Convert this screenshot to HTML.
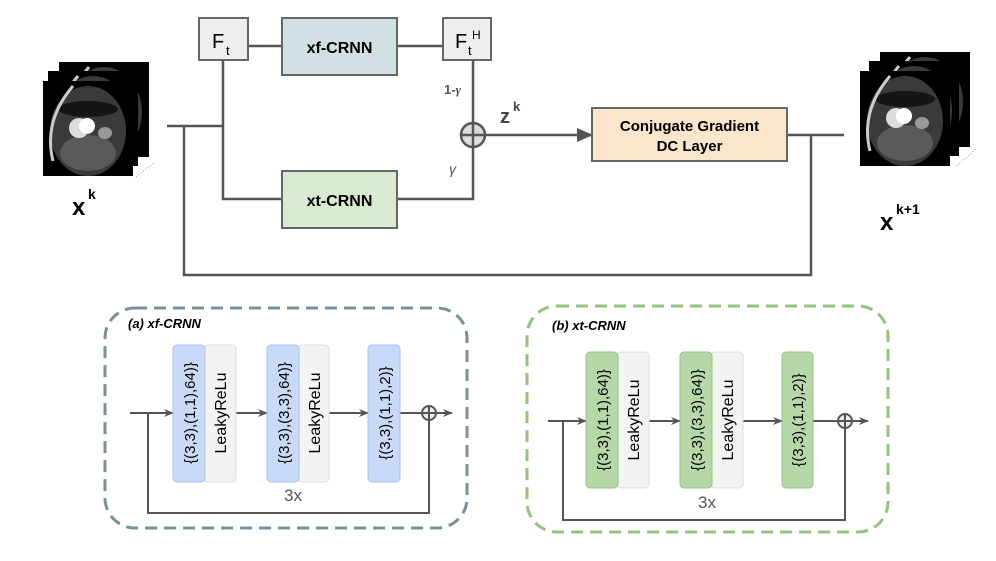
<!DOCTYPE html>
<html><head><meta charset="utf-8"><style>
html,body{margin:0;padding:0;background:#fff}
svg{display:block}
text{font-family:"Liberation Sans",sans-serif}
</style></head><body>
<svg width="996" height="561" viewBox="0 0 996 561" xmlns="http://www.w3.org/2000/svg">
<defs>
<marker id="ah" markerWidth="10" markerHeight="10" refX="9" refY="5" orient="auto" markerUnits="userSpaceOnUse"><path d="M0,1 L10,5 L0,9 L3,5 Z" fill="#555"/></marker>
<marker id="ab" markerWidth="16" markerHeight="14" refX="15" refY="7" orient="auto" markerUnits="userSpaceOnUse"><path d="M0,0 L16,7 L0,14 Z" fill="#555"/></marker>
<g id="mri">
<rect x="0" y="0" width="90" height="95" fill="#000"/>
<ellipse cx="45" cy="50" rx="38" ry="45" fill="#3a3a3a"/>
<ellipse cx="45" cy="28" rx="30" ry="8" fill="#151515"/>
<ellipse cx="45" cy="72" rx="28" ry="18" fill="#5a5a5a"/>
<circle cx="36" cy="47" r="10" fill="#ddd"/>
<circle cx="44" cy="45" r="8" fill="#fff"/>
<ellipse cx="62" cy="52" rx="7" ry="6" fill="#999"/>
<path d="M10,80 Q0,40 30,5" stroke="#ccc" stroke-width="3" fill="none"/>
</g>
</defs>

<use href="#mri" x="59" y="62"/>
<use href="#mri" x="48" y="71"/>
<use href="#mri" x="43" y="81"/>
<line x1="136" y1="177" x2="155" y2="162" stroke="#999" stroke-dasharray="1,2"/>
<text x="72" y="215" font-size="24" font-weight="bold">x</text>
<text x="88" y="199" font-size="14" font-weight="bold">k</text>

<use href="#mri" x="880" y="52"/>
<use href="#mri" x="869" y="61"/>
<use href="#mri" x="860" y="71"/>
<line x1="957" y1="166" x2="976" y2="149" stroke="#999" stroke-dasharray="1,2"/>
<text x="880" y="230" font-size="24" font-weight="bold">x</text>
<text x="896" y="214" font-size="14" font-weight="bold">k+1</text>

<g stroke="#555" stroke-width="2.5" fill="none">
<path d="M167,126 H223"/>
<path d="M223,60 V199 H282"/>
<path d="M248,46 H282"/>
<path d="M397,46 H443"/>
<path d="M473,60 V199 H397"/>
<path d="M184,126 V275 H811 V135"/>
<path d="M787,135 H844"/>
</g>
<line x1="485" y1="135" x2="592" y2="135" stroke="#555" stroke-width="2.5" marker-end="url(#ab)"/>
<circle cx="473" cy="135" r="12" fill="#ddd" stroke="#555" stroke-width="2.5"/>
<line x1="461" y1="135" x2="485" y2="135" stroke="#555" stroke-width="2.5"/>
<line x1="473" y1="123" x2="473" y2="147" stroke="#555" stroke-width="2.5"/>

<rect x="199" y="18" width="49" height="42" fill="#eee" stroke="#666" stroke-width="2"/>
<text x="212" y="48" font-size="20">F</text><text x="226" y="55" font-size="13">t</text>
<rect x="282" y="18" width="115" height="57" fill="#d0e0e3" stroke="#666" stroke-width="2"/>
<text x="339.5" y="53" font-size="16" font-weight="bold" text-anchor="middle">xf-CRNN</text>
<rect x="443" y="18" width="48" height="42" fill="#eee" stroke="#666" stroke-width="2"/>
<text x="455" y="48" font-size="20">F</text><text x="468" y="55" font-size="13">t</text><text x="472" y="39" font-size="12">H</text>
<rect x="282" y="171" width="115" height="57" fill="#d9ead3" stroke="#666" stroke-width="2"/>
<text x="339.5" y="206" font-size="16" font-weight="bold" text-anchor="middle">xt-CRNN</text>
<rect x="592" y="108" width="195" height="53" fill="#fce5cd" stroke="#666" stroke-width="2"/>
<text x="689.5" y="131" font-size="15" font-weight="bold" text-anchor="middle">Conjugate Gradient</text>
<text x="689.5" y="151" font-size="15" font-weight="bold" text-anchor="middle">DC Layer</text>
<text x="444" y="94" font-size="13" fill="#555" font-weight="bold">1-<tspan font-style="italic" font-family="Liberation Serif">γ</tspan></text>
<text x="449" y="174" font-size="14" fill="#555" font-style="italic" font-family="Liberation Serif">γ</text>
<text x="500" y="123" font-size="20" font-weight="bold" fill="#444">z</text>
<text x="513" y="111" font-size="13" font-weight="bold" fill="#444">k</text>

<rect x="105" y="308" width="362" height="220" rx="30" fill="none" stroke="#78909c" stroke-width="3" stroke-dasharray="12,7"/>
<text x="128" y="328" font-size="13" font-weight="bold" font-style="italic">(a) xf-CRNN</text>
<g stroke="#555" stroke-width="2" fill="none">
<path d="M130,413 H148"/>
<path d="M148,413 V513 H429 V420"/>
</g>
<line x1="148" y1="413" x2="173" y2="413" stroke="#555" stroke-width="2" marker-end="url(#ah)"/>
<line x1="236" y1="413" x2="267" y2="413" stroke="#555" stroke-width="2" marker-end="url(#ah)"/>
<line x1="329" y1="413" x2="368" y2="413" stroke="#555" stroke-width="2" marker-end="url(#ah)"/>
<line x1="400" y1="413" x2="452" y2="413" stroke="#555" stroke-width="2" marker-end="url(#ah)"/>
<circle cx="429" cy="413" r="7" fill="#eee" stroke="#555" stroke-width="2"/>
<line x1="422" y1="413" x2="436" y2="413" stroke="#555" stroke-width="2"/><line x1="429" y1="406" x2="429" y2="420" stroke="#555" stroke-width="2"/>
<rect x="204" y="345" width="32" height="137" rx="4" fill="#f3f3f3" stroke="#ddd"/>
<rect x="173" y="345" width="32" height="137" rx="4" fill="#c9daf8" stroke="#a4c2f4"/>
<rect x="298" y="345" width="31" height="137" rx="4" fill="#f3f3f3" stroke="#ddd"/>
<rect x="267" y="345" width="32" height="137" rx="4" fill="#c9daf8" stroke="#a4c2f4"/>
<rect x="368" y="345" width="32" height="137" rx="4" fill="#c9daf8" stroke="#a4c2f4"/>
<g font-size="15" text-anchor="middle">
<text transform="translate(195,413) rotate(-90)">{(3,3),(1,1),64)}</text>
<text transform="translate(226,413) rotate(-90)" font-size="16">LeakyReLu</text>
<text transform="translate(289,413) rotate(-90)">{(3,3),(3,3),64)}</text>
<text transform="translate(320,413) rotate(-90)" font-size="16">LeakyReLu</text>
<text transform="translate(390,413) rotate(-90)">{(3,3),(1,1),2)}</text>
</g>
<text x="293" y="501" font-size="17" fill="#555" text-anchor="middle">3x</text>

<rect x="527" y="306" width="361" height="226" rx="30" fill="none" stroke="#93c47d" stroke-width="3" stroke-dasharray="12,7"/>
<text x="552" y="330" font-size="13" font-weight="bold" font-style="italic">(b) xt-CRNN</text>
<g stroke="#555" stroke-width="2" fill="none">
<path d="M548,421 H563"/>
<path d="M563,421 V520 H845 V428"/>
</g>
<line x1="563" y1="421" x2="586" y2="421" stroke="#555" stroke-width="2" marker-end="url(#ah)"/>
<line x1="649" y1="421" x2="680" y2="421" stroke="#555" stroke-width="2" marker-end="url(#ah)"/>
<line x1="743" y1="421" x2="782" y2="421" stroke="#555" stroke-width="2" marker-end="url(#ah)"/>
<line x1="813" y1="421" x2="868" y2="421" stroke="#555" stroke-width="2" marker-end="url(#ah)"/>
<circle cx="845" cy="421" r="7" fill="#eee" stroke="#555" stroke-width="2"/>
<line x1="838" y1="421" x2="852" y2="421" stroke="#555" stroke-width="2"/><line x1="845" y1="414" x2="845" y2="428" stroke="#555" stroke-width="2"/>
<rect x="617" y="352" width="32" height="136" rx="4" fill="#f3f3f3" stroke="#ddd"/>
<rect x="586" y="352" width="32" height="136" rx="4" fill="#b6d7a8" stroke="#93c47d"/>
<rect x="711" y="352" width="32" height="136" rx="4" fill="#f3f3f3" stroke="#ddd"/>
<rect x="680" y="352" width="32" height="136" rx="4" fill="#b6d7a8" stroke="#93c47d"/>
<rect x="782" y="352" width="31" height="136" rx="4" fill="#b6d7a8" stroke="#93c47d"/>
<g font-size="15" text-anchor="middle">
<text transform="translate(608,420) rotate(-90)">{(3,3),(1,1),64)}</text>
<text transform="translate(639,420) rotate(-90)" font-size="16">LeakyReLu</text>
<text transform="translate(702,420) rotate(-90)">{(3,3),(3,3),64)}</text>
<text transform="translate(733,420) rotate(-90)" font-size="16">LeakyReLu</text>
<text transform="translate(803,420) rotate(-90)">{(3,3),(1,1),2)}</text>
</g>
<text x="707" y="508" font-size="17" fill="#555" text-anchor="middle">3x</text>
</svg>
</body></html>
